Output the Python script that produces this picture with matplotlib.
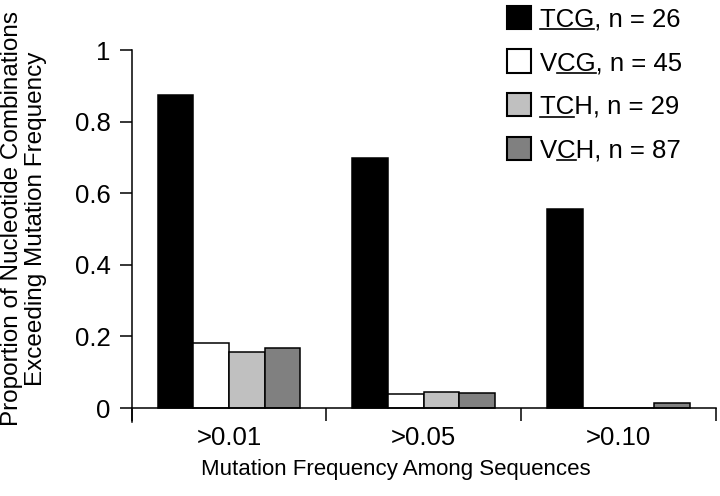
import matplotlib
matplotlib.use("Agg")
import matplotlib.pyplot as plt
from matplotlib.patches import Rectangle
from matplotlib.lines import Line2D
import numpy as np

plt.rcParams['font.family'] = ['Liberation Sans', 'DejaVu Sans']

categories = [">0.01", ">0.05", ">0.10"]
groups = ["TCG", "VCG", "TCH", "VCH"]
group_n = [26, 45, 29, 87]
underline_spans = [(0, 3), (1, 3), (0, 2), (1, 2)]
tcg = [0.873, 0.699, 0.555]
vcg = [0.181, 0.039, 0.0]
tch = [0.156, 0.046, 0.0]
vch = [0.168, 0.041, 0.013]
series = [tcg, vcg, tch, vch]
colors = ["#000000", "#ffffff", "#c0c0c0", "#808080"]
yticks = [0, 0.2, 0.4, 0.6, 0.8, 1.0]
ytick_labels = ["0", "0.2", "0.4", "0.6", "0.8", "1"]
xlabel = "Mutation Frequency Among Sequences"
ylabel = "Proportion of Nucleotide Combinations\nExceeding Mutation Frequency"

W, H = 720, 496
fig = plt.figure(figsize=(W / 100, H / 100), dpi=100)
ax = fig.add_axes([131.7 / W, 1 - 421.7 / H, (715.7 - 131.7) / W, (421.7 - 50) / H])

bw = 0.183
x = np.arange(len(categories)) + 0.5
for j, (vals, c) in enumerate(zip(series, colors)):
    ax.bar(x + (j - 1.5) * bw, vals, width=bw, color=c, edgecolor="black",
           linewidth=1.1, align="center", zorder=3)

ax.set_xlim(0, len(categories))
ax.set_ylim(-0.038, 1.0)
for s in ["top", "right"]:
    ax.spines[s].set_visible(False)
ax.spines["bottom"].set_position(("data", 0))
ax.spines["bottom"].set_zorder(4)
for s in ["left", "bottom"]:
    ax.spines[s].set_linewidth(1.1)
    ax.spines[s].set_color("black")

ax.set_yticks(yticks)
ax.set_yticklabels(ytick_labels)
ax.tick_params(axis="y", direction="out", length=9, width=1.1, pad=6, labelsize=18.5)

ax.set_xticks(np.arange(len(categories) + 1))
ax.set_xticklabels([""] * (len(categories) + 1))
ax.set_xticks(x, minor=True)
ax.set_xticklabels(categories, minor=True)
ax.tick_params(axis="x", which="major", direction="out", length=9.5, width=1.1)
ax.tick_params(axis="x", which="minor", length=0, pad=13, labelsize=18.5)

fig.text(396 / W, 1 - 469 / H, xlabel, ha="center", va="center", fontsize=16)
fig.text(24 / W, 1 - 219 / H, ylabel, ha="center", va="center", rotation=90,
         multialignment="center", fontsize=17.5, linespacing=1.12)

# Legend (manual, with partial underlines)
fig.canvas.draw()
renderer = fig.canvas.get_renderer()
fs = 18.5


def text_width(s):
    if not s:
        return 0.0
    tt = fig.text(0, 0, s, fontsize=fs)
    w = tt.get_window_extent(renderer).width
    tt.remove()
    return w


row0, drow = 17.3, 43.7
sq = 23.5
tx = 540
for i, (g, n, (u0, u1), c) in enumerate(zip(groups, group_n, underline_spans, colors)):
    yc = row0 + i * drow
    fig.add_artist(Rectangle((507 / W, 1 - (yc + sq / 2) / H), sq / W, sq / H,
                             transform=fig.transFigure, facecolor=c,
                             edgecolor="black", linewidth=1.5))
    label = f"{g}, n = {n}"
    base = yc + 9.2
    fig.text(tx / W, 1 - base / H, label, ha="left", va="baseline", fontsize=fs)
    x0 = tx + text_width(label[:u0])
    x1 = tx + text_width(label[:u1])
    yu = base + 2.8
    fig.add_artist(Line2D([x0 / W, x1 / W], [1 - yu / H, 1 - yu / H],
                          transform=fig.transFigure, color="black", linewidth=1.2))

fig.savefig("out.png", dpi=100)
